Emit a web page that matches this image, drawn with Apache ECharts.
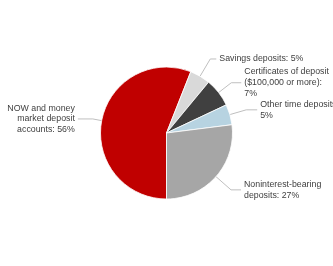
<!DOCTYPE html>
<html>
<head>
<meta charset="utf-8">
<script src="https://cdn.jsdelivr.net/npm/echarts@6/dist/echarts.min.js"></script>
<style>html,body{margin:0;padding:0;background:#fff}#c{width:333px;height:266px}</style>
</head>
<body>
<div id="c"></div>
<script>
const categories = [
  'NOW and money\nmarket deposit\naccounts',
  'Savings deposits',
  'Certificates of deposit\n($100,000 or more)',
  'Other time deposits',
  'Noninterest-bearing\ndeposits'
];
const separators = [': ', ': ', ':\n', '\n', ': '];
const values = [56, 5, 7, 5, 27];
const colors = ['#C00000', '#D9D9D9', '#404040', '#B7D3E1', '#A6A6A6'];
const lineLen1 = [9, 20, 16, 17, 20];
const lineLen2 = [15, 6, 10, 11, 10];

const chart = echarts.init(document.getElementById('c'), null, {renderer: 'canvas'});
chart.setOption({
  animation: false,
  series: [{
    type: 'pie',
    center: [166.5, 133],
    radius: 66,
    startAngle: -90,
    clockwise: true,
    avoidLabelOverlap: false,
    itemStyle: {borderColor: '#fff', borderWidth: 0.8},
    label: {
      show: true,
      fontFamily: 'Liberation Sans, Arial, sans-serif',
      fontSize: 8.8,
      lineHeight: 10.8,
      color: '#404040',
      width: 110,
      overflow: 'none',
      distanceToLabelLine: 3,
      formatter: p => p.name + separators[p.dataIndex] + p.value + '%'
    },
    labelLine: {show: true, lineStyle: {color: '#BFBFBF', width: 1}},
    data: categories.map((n, i) => ({
      name: n,
      value: values[i],
      itemStyle: {color: colors[i]},
      label: i === 0 ? {padding: [4, 0, 0, 0]} : {},
      labelLine: {length: lineLen1[i], length2: lineLen2[i]}
    }))
  }]
});
</script>
</body>
</html>
